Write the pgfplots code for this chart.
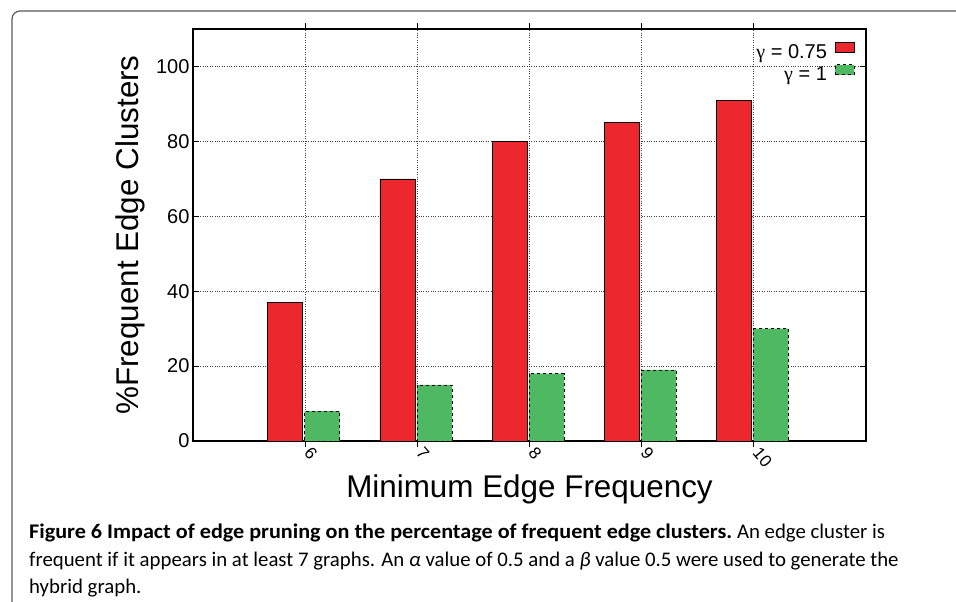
\documentclass[border=0pt]{standalone}
\usepackage{pgfplots}
\pgfplotsset{compat=1.18}
\usepackage{fontspec}
\setmainfont{Liberation Sans}
\newfontfamily\capfont{Carlito}
\newfontfamily\grk{Liberation Serif}
\definecolor{barred}{RGB}{236,40,46}
\definecolor{bargreen}{RGB}{78,185,98}
\begin{document}
\begin{tikzpicture}[x=1pt,y=1pt]
\path[use as bounding box] (0,0) rectangle (956,-602);
\draw[black!65, line width=1.2pt, rounded corners=8pt] (12,-603) -- (12,-11) -- (957,-11);
\begin{axis}[
 at={(193pt,-441pt)}, anchor=south west,
 scale only axis, width=673pt, height=412pt,
 xmin=5, xmax=11, ymin=0, ymax=110,
 xtick={6,7,8,9,10}, ytick={0,20,40,60,80,100},
 tick align=inside,
 tick style={black, line width=0.8pt},
 major tick length=6pt,
 grid=major,
 grid style={black!75, dotted, line width=0.7pt},
 axis line style={black, line width=1.3pt},
 ybar, bar width=35pt,
 /pgf/number format/assume math mode=true,
 xticklabel style={xshift=2.5pt, yshift=-3pt, rotate=-50, anchor=west, inner sep=0pt, font=\fontsize{17}{19}\selectfont},
 yticklabel style={font=\fontsize{20}{22}\selectfont},
 xlabel={Minimum Edge Frequency},
 ylabel={\%Frequent Edge Clusters},
 xlabel style={at={(rel axis cs:0.5,-0.137)}, anchor=base, inner sep=0pt, font=\fontsize{31.4}{34}\selectfont},
 ylabel style={at={(rel axis cs:-0.0817,0.5)}, rotate=0, anchor=base, inner sep=0pt, font=\fontsize{31.4}{34}\selectfont},
 legend style={at={(rel axis cs:1,1)}, anchor=north east, xshift=-11pt, yshift=-13pt,
   draw=none, fill=none, inner sep=0pt, row sep=2pt, font=\fontsize{20}{22}\selectfont,
   /tikz/every odd column/.append style={column sep=6pt}},
 legend cell align=right,
 legend plot pos=right,
]
\addplot[fill=barred, draw=black, line width=0.6pt, bar shift=-20pt,
  legend image code/.code={\draw[fill=barred, draw=black, line width=0.8pt] (0pt,0pt) rectangle (19pt,10pt);}]
  coordinates {(6,37) (7,70) (8,80) (9,85) (10,91)};
\addlegendentry{{\grk γ} = 0.75}
\addplot[fill=bargreen, draw=black, dashed, line width=0.6pt, bar shift=17pt,
  legend image code/.code={\draw[fill=bargreen, draw=black, dashed, line width=0.8pt] (0pt,0pt) rectangle (19pt,10pt);}]
  coordinates {(6,8) (7,15) (8,18) (9,19) (10,30)};
\addlegendentry{{\grk γ} = 1}
\end{axis}
\begin{scope}[every node/.style={anchor=base west, inner sep=0pt, font=\capfont\fontsize{20.8}{24}\selectfont}]
\node at (29,-538) {\scalebox{1.065}[1]{\textbf{Figure 6 Impact of edge pruning on the percentage of frequent edge clusters.}} An edge cluster is};
\node at (29,-566) {frequent if it appears in at least 7 graphs. An \textit{α} value of 0.5 and a \textit{β} value 0.5 were used to generate the};
\node at (29,-593) {hybrid graph.};
\end{scope}
\end{tikzpicture}
\end{document}
